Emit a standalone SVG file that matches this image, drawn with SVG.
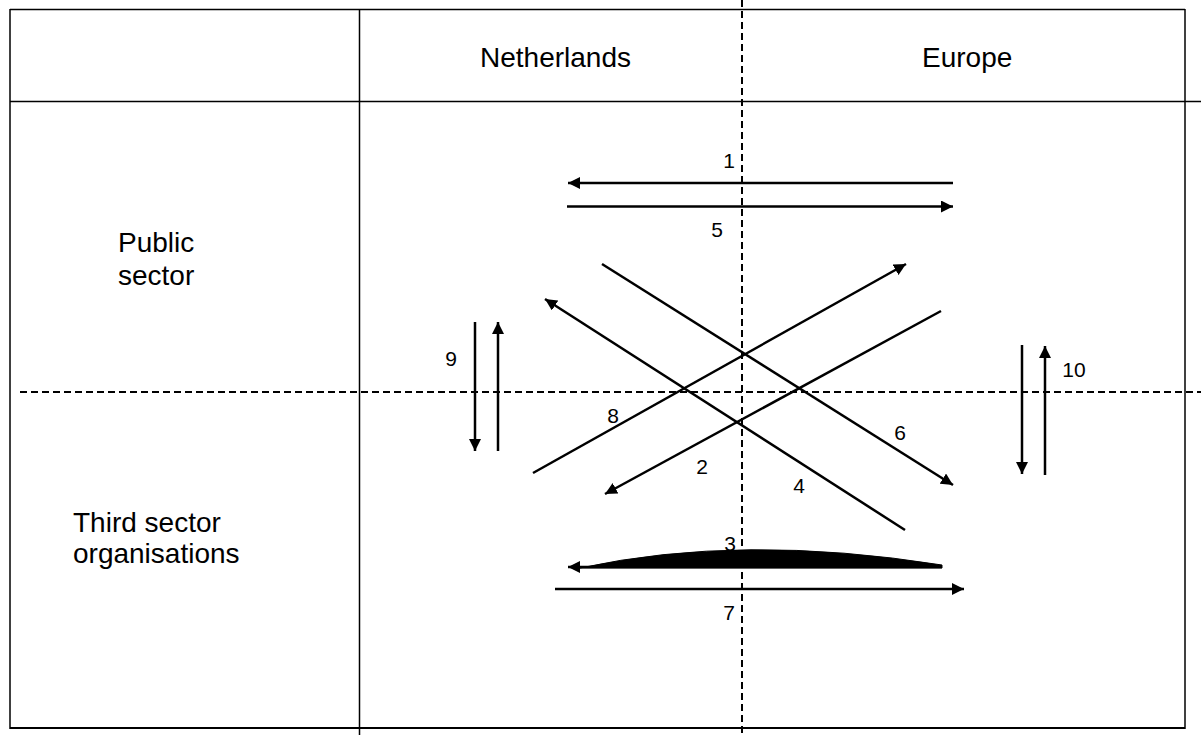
<svg xmlns="http://www.w3.org/2000/svg" width="1201" height="735" viewBox="0 0 1201 735">
<defs>
<style>
.tbl{stroke:#000;stroke-width:1.5;fill:none}
.dash{stroke:#000;stroke-width:2;stroke-dasharray:7,4;fill:none}
.arr{stroke:#000;stroke-width:2.5;fill:none;marker-end:url(#ah)}
.hdr{font-family:"Liberation Sans",Arial,sans-serif;font-size:28px;fill:#000}
.num{font-family:"Liberation Sans",Arial,sans-serif;font-size:21px;fill:#000;text-anchor:middle}
</style>
<marker id="ah" markerUnits="userSpaceOnUse" markerWidth="13" markerHeight="12" refX="12" refY="6" orient="auto" viewBox="0 0 13 12">
<path d="M0,0 L12,6 L0,12 Z" fill="#000"/>
</marker>
</defs>
<rect width="1201" height="735" fill="#fff"/>
<g id="table">
<line class="tbl" x1="10" y1="9.5" x2="1185" y2="9.5"/>
<line class="tbl" x1="10" y1="101.5" x2="1201" y2="101.5"/>
<line class="tbl" x1="10" y1="9" x2="10" y2="729"/>
<line class="tbl" x1="1185" y1="9" x2="1185" y2="729"/>
<line class="tbl" x1="359.5" y1="9" x2="359.5" y2="735"/>
<line x1="10" y1="728" x2="1185" y2="728" stroke="#000" stroke-width="2.2"/>
</g>
<g id="axes">
<line class="dash" x1="742" y1="0" x2="742" y2="735"/>
<line class="dash" x1="20" y1="392" x2="1201" y2="392"/>
</g>
<g id="headers">
<text class="hdr" x="480" y="67">Netherlands</text>
<text class="hdr" x="922" y="67">Europe</text>
<text class="hdr" x="118" y="252">Public</text>
<text class="hdr" x="118" y="285">sector</text>
<text class="hdr" x="73" y="532">Third sector</text>
<text class="hdr" x="73" y="563">organisations</text>
</g>
<g id="connectors">
<line class="arr" x1="953" y1="183" x2="568" y2="183"/>
<line class="arr" x1="567" y1="206.5" x2="953" y2="206.5"/>
<line class="arr" x1="602" y1="264" x2="953" y2="485"/>
<line class="arr" x1="905" y1="530" x2="545" y2="299"/>
<line class="arr" x1="533" y1="473" x2="906" y2="264"/>
<line class="arr" x1="941" y1="311" x2="605" y2="494"/>
<line class="arr" x1="475" y1="322" x2="475" y2="451"/>
<line class="arr" x1="498" y1="451" x2="498" y2="322"/>
<line class="arr" x1="1022" y1="345" x2="1022" y2="474"/>
<line class="arr" x1="1045" y1="475" x2="1045" y2="346"/>
<path d="M580,568 Q741,533 942,565 L942,568 Z" fill="#000" stroke="#000" stroke-width="1"/>
<line class="arr" x1="942" y1="567" x2="568" y2="567"/>
<line class="arr" x1="555" y1="589" x2="964" y2="589"/>
</g>
<g id="labels">
<text class="num" x="729" y="168">1</text>
<text class="num" x="717" y="237">5</text>
<text class="num" x="613" y="423">8</text>
<text class="num" x="900" y="440">6</text>
<text class="num" x="702" y="474">2</text>
<text class="num" x="799" y="493">4</text>
<text class="num" x="451" y="366">9</text>
<text class="num" x="1074" y="377">10</text>
<text class="num" x="730" y="551">3</text>
<text class="num" x="729" y="620">7</text>
</g>
</svg>
